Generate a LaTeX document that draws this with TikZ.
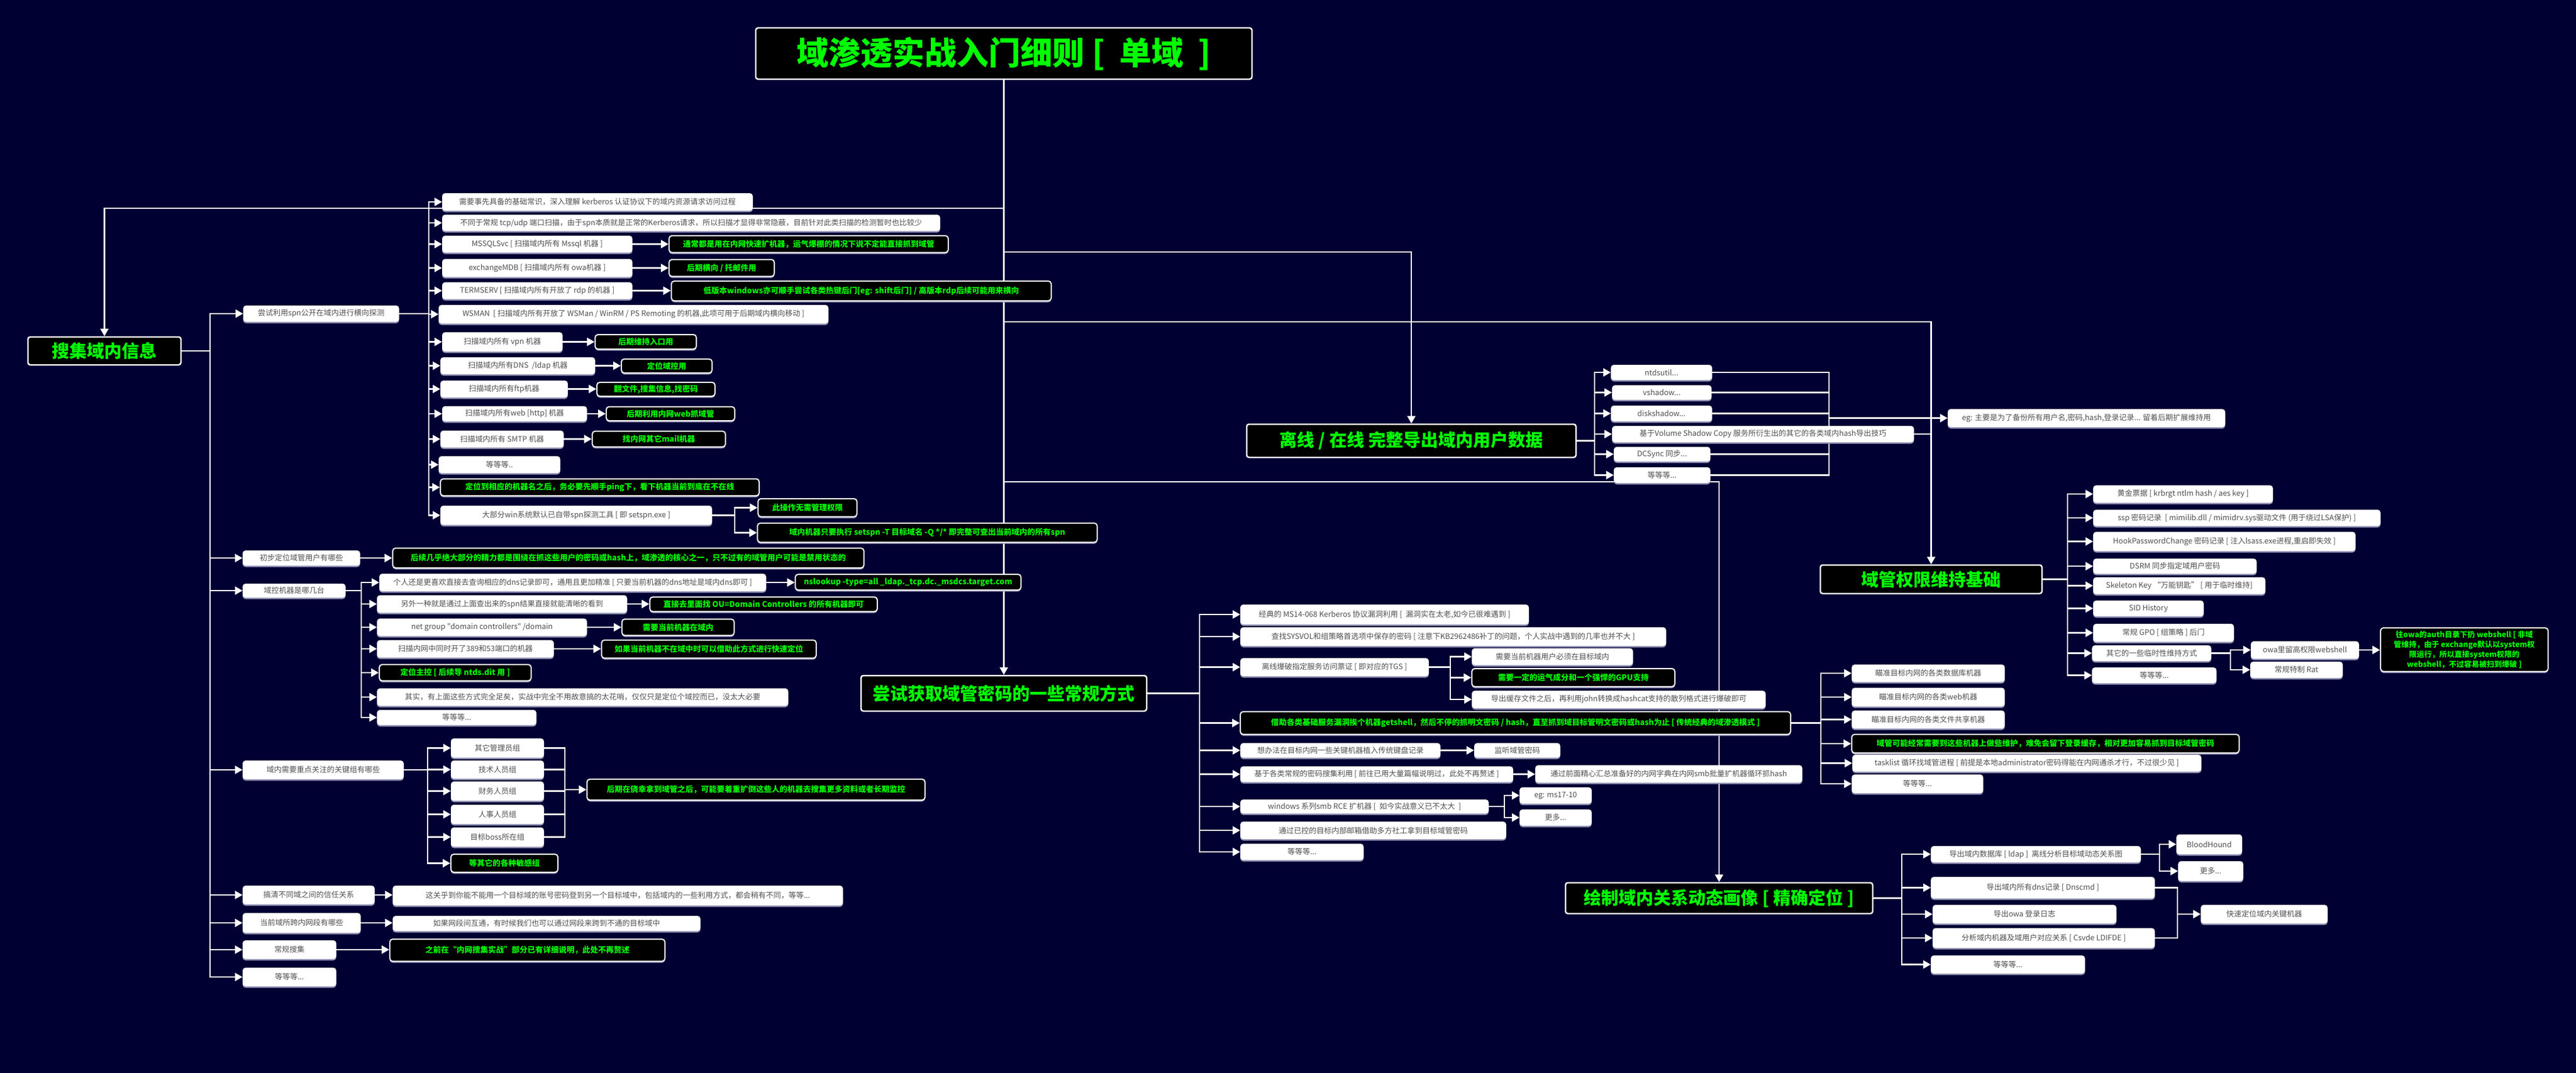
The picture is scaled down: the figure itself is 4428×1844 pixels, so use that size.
\documentclass[tikz,border=0pt]{standalone}
\usepackage{fontspec}
\newfontfamily\cjk{Noto Sans CJK SC}
\usetikzlibrary{arrows.meta,shadows}
\definecolor{bgc}{RGB}{0,0,51}
\definecolor{grn}{RGB}{0,255,0}
\definecolor{wtxt}{RGB}{80,80,80}
\definecolor{shc}{RGB}{150,150,185}
\pgfdeclarelayer{bgl}
\pgfdeclarelayer{lnl}
\pgfsetlayers{bgl,lnl,main}
\tikzset{
  wb/.style={fill=white, rounded corners=5pt, inner sep=2pt, text=wtxt,
    font={\cjk\fontsize{13}{15}\selectfont},
    drop shadow={shadow xshift=0pt, shadow yshift=-2.5pt, fill=shc, opacity=1}},
  gb/.style={fill=black, draw=white, line width=2pt, rounded corners=5pt, inner sep=2pt, text=grn,
    font={\cjk\bfseries\fontsize{13.5}{16}\selectfont},
    drop shadow={shadow xshift=0pt, shadow yshift=-2.5pt, fill=shc, opacity=1}},
  tb/.style={fill=black, draw=white, line width=2.5pt, rounded corners=4pt, inner sep=2pt, text=grn,
    font={\cjk\bfseries\fontsize{30}{34}\selectfont}},
  ln/.style={draw=white, line width=2.6pt},
  arr/.style={ln, -{Triangle[length=13pt,width=14pt]}},
}
\newcommand\WB[6]{\node[wb,minimum width={(#4-#2)*1pt},minimum height={(#5-#3)*1pt}] (#1) at ({(#2+#4)/2},{(#3+#5)/2}) {#6};}
\newcommand\GB[6]{\node[gb,minimum width={(#4-#2)*1pt},minimum height={(#5-#3)*1pt}] (#1) at ({(#2+#4)/2},{(#3+#5)/2}) {#6};}
\newcommand\TB[6]{\node[tb,minimum width={(#4-#2)*1pt},minimum height={(#5-#3)*1pt}] (#1) at ({(#2+#4)/2},{(#3+#5)/2}) {#6};}
\begin{document}
\begin{tikzpicture}[x=1pt,y=-1pt]
\begin{pgfonlayer}{bgl}
\fill[bgc] (0,0) rectangle (4428,1844);
\end{pgfonlayer}
\useasboundingbox (0,0) rectangle (4428,1844);

% ---------- main topics ----------
\node[tb,line width=2.5pt,minimum width=853pt,minimum height=88pt,font={\cjk\bfseries\fontsize{55}{60}\selectfont}] (title) at (1725.5,92) {域渗透实战入门细则\ [\ \ 单域\ \ ]};
\TB{collect}{48}{579}{311}{627}{搜集域内信息}
\TB{offline}{2143}{729}{2709}{786}{离线 / 在线\ 完整导出域内用户数据}
\TB{persist}{3129}{971}{3510}{1020}{域管权限维持基础}
\TB{try}{1480}{1161}{1971}{1222}{尝试获取域管密码的一些常规方式}
\TB{drawt}{2691}{1517}{3219}{1570}{绘制域内关系动态画像 [ 精确定位 ]}

% ---------- collect branch ----------
\WB{spn}{418}{525}{686}{553}{尝试利用spn公开在域内进行横向探测}
\WB{a}{760}{332}{1294}{362}{需要事先具备的基础常识，深入理解 kerberos 认证协议下的域内资源请求访问过程}
\WB{b}{760}{369}{1616}{397}{不同于常规 tcp/udp 端口扫描，由于spn本质就是正常的Kerberos请求，所以扫描才显得非常隐蔽，目前针对此类扫描的检测暂时也比较少}
\WB{c}{760}{405}{1087}{434}{MSSQLSvc [ 扫描域内所有 Mssql 机器 ]}
\GB{cg}{1150}{405}{1630}{434}{通常都是用在内网快速扩机器，运气爆棚的情况下说不定能直接抓到域管}
\WB{d}{760}{445}{1087}{476}{exchangeMDB [ 扫描域内所有 owa机器 ]}
\GB{dg}{1150}{446}{1331}{475}{后期横向 / 托邮件用}
\WB{e}{760}{485}{1087}{514}{TERMSERV [ 扫描域内所有开放了 rdp 的机器 ]}
\GB{eg}{1154}{483}{1807}{517}{低版本windows亦可顺手尝试各类热键后门[eg: shift后门] / 高版本rdp后续可能用来横向}
\WB{f}{754}{524}{1424}{556}{WSMAN\ \ [ 扫描域内所有开放了 WSMan / WinRM / PS Remoting 的机器,此项可用于后期域内横向移动 ]}
\WB{g}{760}{571}{967}{604}{扫描域内所有 vpn 机器}
\GB{gg}{1023}{575}{1197}{600}{后期维持入口用}
\WB{h}{757}{614}{1023}{643}{扫描域内所有DNS\ \ /ldap 机器}
\GB{hg}{1068}{617}{1224}{641}{定位域控用}
\WB{i}{757}{654}{976}{683}{扫描域内所有ftp机器}
\GB{ig}{1026}{657}{1229}{681}{翻文件,搜集信息,找密码}
\WB{j}{760}{698}{1009}{724}{扫描域内所有web [http] 机器}
\GB{jg}{1042}{699}{1263}{723}{后期利用内网web抓域管}
\WB{k}{757}{740}{969}{769}{扫描域内所有 SMTP 机器}
\GB{kg}{1018}{741}{1247}{768}{找内网其它mail机器}
\WB{l}{754}{784}{963}{813}{等等等..}
\GB{m}{757}{823}{1305}{852}{定位到相应的机器名之后，务必要先顺手ping下，看下机器当前到底在不在线}
\WB{n}{757}{869}{1224}{902}{大部分win系统默认已自带spn探测工具 [ 即 setspn.exe ]}
\GB{n1}{1303}{857}{1473}{888}{此操作无需管理权限}
\GB{n2}{1302}{899}{1886}{932}{域内机器只要执行 setspn -T 目标域名 -Q */* 即完整可查出当前域内的所有spn}

\WB{prelim}{417}{946}{619}{972}{初步定位域管用户有哪些}
\GB{prelimg}{675}{942}{1485}{976}{后续几乎绝大部分的精力都是围绕在抓这些用户的密码或hash上，域渗透的核心之一，只不过有的域管用户可能是禁用状态的}
\WB{dom}{417}{1003}{594}{1027}{域控机器是哪几台}
\WB{d1}{652}{986}{1317}{1016}{个人还是更喜欢直接去查询相应的dns记录即可，通用且更加精准 [ 只要当前机器的dns地址是域内dns即可 ]}
\GB{d1g}{1367}{987}{1755}{1014}{nslookup -type=all \_ldap.\_tcp.dc.\_msdcs.target.com}
\WB{d2}{648}{1023}{1078}{1053}{另外一种就是通过上面查出来的spn结果直接就能清晰的看到}
\GB{d2g}{1117}{1026}{1508}{1051}{直接去里面找 OU=Domain Controllers 的所有机器即可}
\WB{d3}{648}{1063}{1009}{1093}{net group "domain controllers" /domain}
\GB{d3g}{1069}{1064}{1262}{1092}{需要当前机器在域内}
\WB{d4}{648}{1100}{952}{1130}{扫描内网中同时开了389和53端口的机器}
\GB{d4g}{1034}{1100}{1403}{1131}{如果当前机器不在域中时可以借助此方式进行快速定位}
\GB{d5g}{652}{1142}{913}{1170}{定位主控 [ 后续导 ntds.dit 用 ]}
\WB{d6}{648}{1183}{1355}{1213}{其实，有上面这些方式完全足矣，实战中完全不用故意搞的太花哨，仅仅只是定位个域控而已，没太大必要}
\WB{d7}{648}{1220}{922}{1246}{等等等...}

\WB{grp}{417}{1307}{694}{1339}{域内需要重点关注的关键组有哪些}
\WB{g1}{775}{1269}{935}{1302}{其它管理员组}
\WB{g2}{775}{1307}{935}{1338}{技术人员组}
\WB{g3}{775}{1343}{935}{1376}{财务人员组}
\WB{g4}{775}{1383}{935}{1416}{人事人员组}
\WB{g5}{775}{1422}{935}{1455}{目标boss所在组}
\GB{g6}{775}{1468}{959}{1499}{等其它的各种敏感组}
\GB{gsum}{1009}{1339}{1590}{1375}{后期在侥幸拿到域管之后，可能要着重扩倒这些人的机器去搜集更多资料或者长期监控}

\WB{trust}{417}{1522}{644}{1554}{搞清不同域之间的信任关系}
\WB{trustt}{675}{1522}{1449}{1556}{这关乎到你能不能用一个目标域的账号密码登到另一个目标域中，包括域内的一些利用方式，都会稍有不同，等等...}
\WB{net}{417}{1569}{620}{1603}{当前域所跨内网段有哪些}
\WB{nett}{675}{1574}{1204}{1600}{如果网段间互通，有时候我们也可以通过网段来跨到不通的目标域中}
\WB{rout}{417}{1616}{578}{1648}{常规搜集}
\GB{routg}{670}{1614}{1143}{1652}{之前在“内网搜集实战”部分已有详细说明，此处不再赘述}
\WB{etc}{417}{1663}{578}{1695}{等等等...}

% ---------- offline branch ----------
\WB{o1}{2769}{627}{2943}{653}{ntdsutil...}
\WB{o2}{2771}{662}{2942}{687}{vshadow...}
\WB{o3}{2769}{697}{2943}{724}{diskshadow...}
\WB{o4}{2771}{732}{3290}{760}{基于Volume Shadow Copy 服务所衍生出的其它的各类域内hash导出技巧}
\WB{o5}{2774}{768}{2940}{793}{DCSync 同步...}
\WB{o6}{2774}{803}{2940}{830}{等等等...}
\WB{oeg}{3348}{703}{3825}{734}{eg: 主要是为了备份所有用户名,密码,hash,登录记录... 留着后期扩展维持用}

% ---------- persist branch ----------
\WB{p1}{3598}{834}{3907}{864}{黄金票据 [ krbrgt ntlm hash / aes key ]}
\WB{p2}{3598}{876}{4092}{904}{ssp 密码记录\ \ [ mimilib.dll / mimidrv.sys驱动文件 (用于绕过LSA保护) ]}
\WB{p3}{3598}{914}{4049}{947}{HookPasswordChange 密码记录 [ 注入lsass.exe进程,重启即失效 ]}
\WB{p4}{3598}{960}{3879}{986}{DSRM 同步指定域用户密码}
\WB{p5}{3598}{992}{3894}{1021}{Skeleton Key “万能钥匙” [ 用于临时维持]}
\WB{p6}{3598}{1032}{3788}{1059}{SID History}
\WB{p7}{3598}{1072}{3840}{1103}{常规 GPO [ 组策略 ] 后门}
\WB{p8}{3596}{1109}{3801}{1136}{其它的一些临时性维持方式}
\WB{p81}{3869}{1102}{4055}{1132}{owa里留高权限webshell}
\node[gb,minimum width=288pt,minimum height=75pt,align=center,font={\cjk\bfseries\fontsize{13}{17}\selectfont}] (p81g) at (4236,1116.5) {往owa的auth目录下扔 webshell [ 非域\\管维持，由于 exchange默认以system权\\限运行，所以直接system权限的\\webshell，不过容易被扫到爆破 ]};
\WB{p82}{3868}{1137}{4027}{1165}{常规特制 Rat}
\WB{p9}{3596}{1147}{3810}{1174}{等等等...}

% ---------- try branch ----------
\WB{t1}{2132}{1039}{2628}{1073}{经典的 MS14-068 Kerberos 协议漏洞利用 [\ \ 漏洞实在太老,如今已很难遇到 ]}
\WB{t2}{2132}{1078}{2864}{1110}{查找SYSVOL和组策略首选项中保存的密码 [ 注意下KB2962486补丁的问题，个人实战中遇到的几率也并不大 ]}
\WB{t3}{2132}{1131}{2456}{1162}{离线爆破指定服务访问票证 [ 即对应的TGS ]}
\WB{t31}{2530}{1114}{2807}{1143}{需要当前机器用户必须在目标域内}
\GB{t32}{2530}{1149}{2879}{1180}{需要一定的运气成分和一个强悍的GPU支持}
\WB{t33}{2530}{1187}{3035}{1217}{导出缓存文件之后，再利用john转换成hashcat支持的散列格式进行爆破即可}
\GB{t4}{2132}{1223}{3078}{1262}{借助各类基础服务漏洞挨个机器getshell，然后不停的抓明文密码 / hash，直至抓到域目标管明文密码或hash为止 [ 传统经典的域渗透模式 ]}
\WB{s1}{3183}{1142}{3446}{1172}{瞄准目标内网的各类数据库机器}
\WB{s2}{3183}{1182}{3446}{1214}{瞄准目标内网的各类web机器}
\WB{s3}{3183}{1221}{3446}{1252}{瞄准目标内网的各类文件共享机器}
\GB{s4}{3183}{1262}{3849}{1294}{域管可能经常需要到这些机器上做些维护，难免会留下登录缓存，相对更加容易抓到目标域管密码}
\WB{s5}{3184}{1297}{3784}{1326}{tasklist 循环找域管进程 [ 前提是本地administrator密码得能在内网通杀才行，不过很少见 ]}
\WB{s6}{3183}{1331}{3409}{1363}{等等等...}
\WB{t5}{2132}{1277}{2476}{1302}{想办法在目标内网一些关键机器植入传统键盘记录}
\WB{t5r}{2534}{1277}{2682}{1302}{监听域管密码}
\WB{t6}{2132}{1317}{2601}{1344}{基于各类常规的密码搜集利用 [ 前往已用大量篇幅说明过，此处不再赘述 ]}
\WB{t6r}{2639}{1315}{3098}{1345}{通过前面精心汇总准备好的内网字典在内网smb批量扩机器循环抓hash}
\WB{t7}{2132}{1374}{2559}{1398}{windows 系列smb RCE 扩机器 [\ \ 如今实战意义已不太大\ \ ]}
\WB{t71}{2612}{1353}{2736}{1381}{eg: ms17-10}
\WB{t72}{2612}{1391}{2736}{1419}{更多...}
\WB{t8}{2132}{1412}{2589}{1442}{通过已控的目标内部邮箱借助多方社工拿到目标域管密码}
\WB{t9}{2132}{1450}{2344}{1478}{等等等...}

% ---------- draw branch ----------
\WB{r1}{3319}{1454}{3680}{1482}{导出域内数据库 [ ldap ]\ \ 离线分析目标域动态关系图}
\WB{r11}{3741}{1434}{3854}{1468}{BloodHound}
\WB{r12}{3744}{1480}{3856}{1514}{更多...}
\WB{r2}{3319}{1507}{3704}{1544}{导出域内所有dns记录 [ Dnscmd ]}
\WB{r3}{3322}{1555}{3638}{1587}{导出owa 登录日志}
\WB{r4}{3322}{1595}{3704}{1629}{分析域内机器及域用户对应关系 [ Csvde LDIFDE ]}
\WB{r5}{3319}{1642}{3584}{1673}{等等等...}
\WB{rq}{3783}{1555}{4001}{1587}{快速定位域内关键机器}

% ---------- junctions ----------
\coordinate (jc) at (1725.5,358);
\coordinate (jo) at (1725.5,433);
\coordinate (jp) at (1725.5,553);
\coordinate (jd) at (1725.5,828);
\coordinate (cb) at (361,603);
\coordinate (spnb) at (737,539);
\coordinate (nb) at (1263,885.5);
\coordinate (domb) at (621,1015);
\coordinate (grpb) at (735,1323);
\coordinate (grps) at (971,1357);
\coordinate (ob) at (2741,757.5);
\coordinate (os1) at (3144,718.5);
\coordinate (os2) at (3320,718.5);
\coordinate (pb) at (3554,995.5);
\coordinate (p8b) at (3834,1122.5);
\coordinate (tb) at (2062,1191.5);
\coordinate (t3b) at (2493,1146.5);
\coordinate (t4b) at (3130,1242.5);
\coordinate (t7b) at (2586,1386);
\coordinate (rb) at (3269,1543.5);
\coordinate (r1b) at (3712,1468);
\coordinate (rs) at (3743,1571);

\begin{pgfonlayer}{lnl}
% main
\draw[arr] (title.south) -- (try.north);
\draw[arr] (jc) -| (collect.north);
\draw[arr] (jo) -| (offline.north);
\draw[arr] (jp) -| (persist.north);
\draw[arr] (jd) -| (drawt.north);
% collect
\draw[ln] (collect.east) -- (cb);
\foreach \c in {spn,prelim,dom,grp,trust,net,rout,etc} \draw[arr] (cb) |- (\c.west);
\draw[ln] (spn.east) -- (spnb);
\foreach \c in {a,b,c,d,e,f,g,h,i,j,k,l,m,n} \draw[arr] (spnb) |- (\c.west);
\foreach \p/\q in {c/cg,d/dg,e/eg,g/gg,h/hg,i/ig,j/jg,k/kg,prelim/prelimg,d1/d1g,d2/d2g,d3/d3g,d4/d4g,trust/trustt,net/nett,rout/routg}
  \draw[arr] (\p.east) -- (\p.east -| \q.west);
\draw[ln] (n.east) -- (nb);
\foreach \c in {n1,n2} \draw[arr] (nb) |- (\c.west);
\draw[ln] (dom.east) -- (domb);
\foreach \c in {d1,d2,d3,d4,d5g,d6,d7} \draw[arr] (domb) |- (\c.west);
\draw[ln] (grp.east) -- (grpb);
\foreach \c in {g1,g2,g3,g4,g5,g6} \draw[arr] (grpb) |- (\c.west);
\foreach \c in {g1,g2,g3,g4,g5} \draw[ln] (\c.east) -| (grps);
\draw[arr] (grps) -- (gsum.west);
% offline
\draw[ln] (offline.east) -- (ob);
\foreach \c in {o1,o2,o3,o4,o5,o6} \draw[arr] (ob) |- (\c.west);
\foreach \c in {o1,o2,o3,o5,o6} \draw[ln] (\c.east) -| (os1);
\draw[ln] (os1) -- (os2);
\draw[ln] (o4.east) -| (os2);
\draw[arr] (os2) -- (oeg.west);
% persist
\draw[ln] (persist.east) -- (pb);
\foreach \c in {p1,p2,p3,p4,p5,p6,p7,p8,p9} \draw[arr] (pb) |- (\c.west);
\draw[ln] (p8.east) -- (p8b);
\foreach \c in {p81,p82} \draw[arr] (p8b) |- (\c.west);
\draw[arr] (p81.east) -- (p81.east -| p81g.west);
% try
\draw[ln] (try.east) -- (tb);
\foreach \c in {t1,t2,t3,t4,t5,t6,t7,t8,t9} \draw[arr] (tb) |- (\c.west);
\draw[ln] (t3.east) -- (t3b);
\foreach \c in {t31,t32,t33} \draw[arr] (t3b) |- (\c.west);
\draw[ln] (t4.east) -- (t4b);
\foreach \c in {s1,s2,s3,s4,s5,s6} \draw[arr] (t4b) |- (\c.west);
\foreach \p/\q in {t5/t5r,t6/t6r} \draw[arr] (\p.east) -- (\p.east -| \q.west);
\draw[ln] (t7.east) -- (t7b);
\foreach \c in {t71,t72} \draw[arr] (t7b) |- (\c.west);
% draw
\draw[ln] (drawt.east) -- (rb);
\foreach \c in {r1,r2,r3,r4,r5} \draw[arr] (rb) |- (\c.west);
\draw[ln] (r1.east) -- (r1b);
\foreach \c in {r11,r12} \draw[arr] (r1b) |- (\c.west);
\foreach \c in {r2,r4} \draw[ln] (\c.east) -| (rs);
\draw[arr] (rs) -- (rq.west);
\end{pgfonlayer}
\end{tikzpicture}
\end{document}
